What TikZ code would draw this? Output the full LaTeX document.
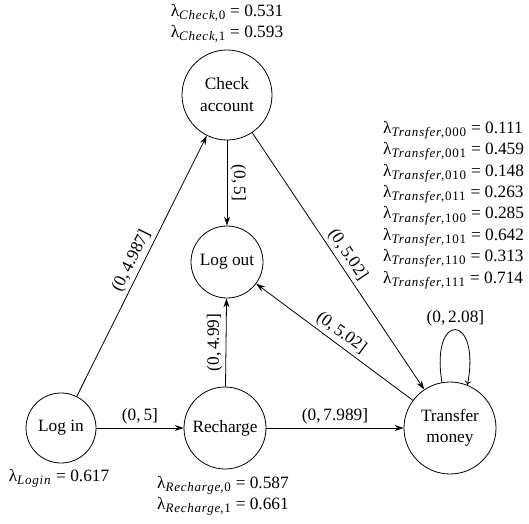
\documentclass[tikz,border=0pt]{standalone}
\usepackage{fontspec}
\setmainfont{Liberation Serif}
\usetikzlibrary{arrows.meta}
\newcommand\lsub[1]{\textsubscript{\fontsize{13}{13}\selectfont\addfontfeature{LetterSpace=6}#1}}
\begin{document}
\begin{tikzpicture}[x=1pt,y=1pt,
  every node/.style={font=\fontsize{17.3}{21}\selectfont},
  state/.style={circle, draw, line width=0.8pt, inner sep=1pt, align=center},
  conn/.style={line width=0.8pt, -{Stealth[length=9pt,width=6pt]}},
  loopc/.style={line width=0.8pt, -{To[length=4pt,width=6pt]}},
  lab/.style={inner sep=3pt},
  lam/.style={inner sep=0pt}]
\useasboundingbox (0,0) rectangle (529,523);
\node[state, minimum size=90pt] (check) at (227,428) {Check\\[1pt]account};
\node[state, minimum size=72pt] (logout) at (227,261) {Log out};
\node[state, minimum size=70pt] (login) at (61,95) {Log in};
\node[state, minimum size=82pt] (recharge) at (225,95) {Recharge};
\node[state, minimum size=92pt] (transfer) at (450,95) {Transfer\\money};

\draw[conn] (login) -- node[lab, sloped, above] {(0,\,4.987]} (check);
\draw[conn] (check) -- node[lab, rotate=-90, anchor=south] {(0,\,5]} (logout);
\draw[conn] (check) -- node[lab, sloped, above] {(0,\,5.02]} (transfer);
\draw[conn] (transfer) -- node[lab, sloped, above] {(0,\,5.02]} (logout);
\draw[conn] (recharge) -- node[lab, rotate=90, anchor=south] {(0,\,4.99]} (logout);
\draw[conn] (login) -- node[lab, above] {(0,\,5]} (recharge);
\draw[conn] (recharge) -- node[lab, above] {(0,\,7.989]} (transfer);
\draw[loopc] (transfer.100) .. controls +(-12,72) and +(14,72) .. node[lab, above] {(0,\,2.08]} (transfer.68);

\node[lam, align=center] (lcheck) at (227,500) {λ\lsub{\textit{Check},0} = 0.531\\λ\lsub{\textit{Check},1} = 0.593};
\node[lam, align=left, anchor=west, font=\fontsize{17.3}{21.4}\selectfont] (ltransfer) at (383,318) {λ\lsub{\textit{Transfer},000} = 0.111\\λ\lsub{\textit{Transfer},001} = 0.459\\λ\lsub{\textit{Transfer},010} = 0.148\\λ\lsub{\textit{Transfer},011} = 0.263\\λ\lsub{\textit{Transfer},100} = 0.285\\λ\lsub{\textit{Transfer},101} = 0.642\\λ\lsub{\textit{Transfer},110} = 0.313\\λ\lsub{\textit{Transfer},111} = 0.714};
\node[lam] (llogin) at (59,45) {λ\lsub{\textit{Login}} = 0.617};
\node[lam, align=center] (lrecharge) at (223,27) {λ\lsub{\textit{Recharge},0} = 0.587\\λ\lsub{\textit{Recharge},1} = 0.661};
\end{tikzpicture}
\end{document}
